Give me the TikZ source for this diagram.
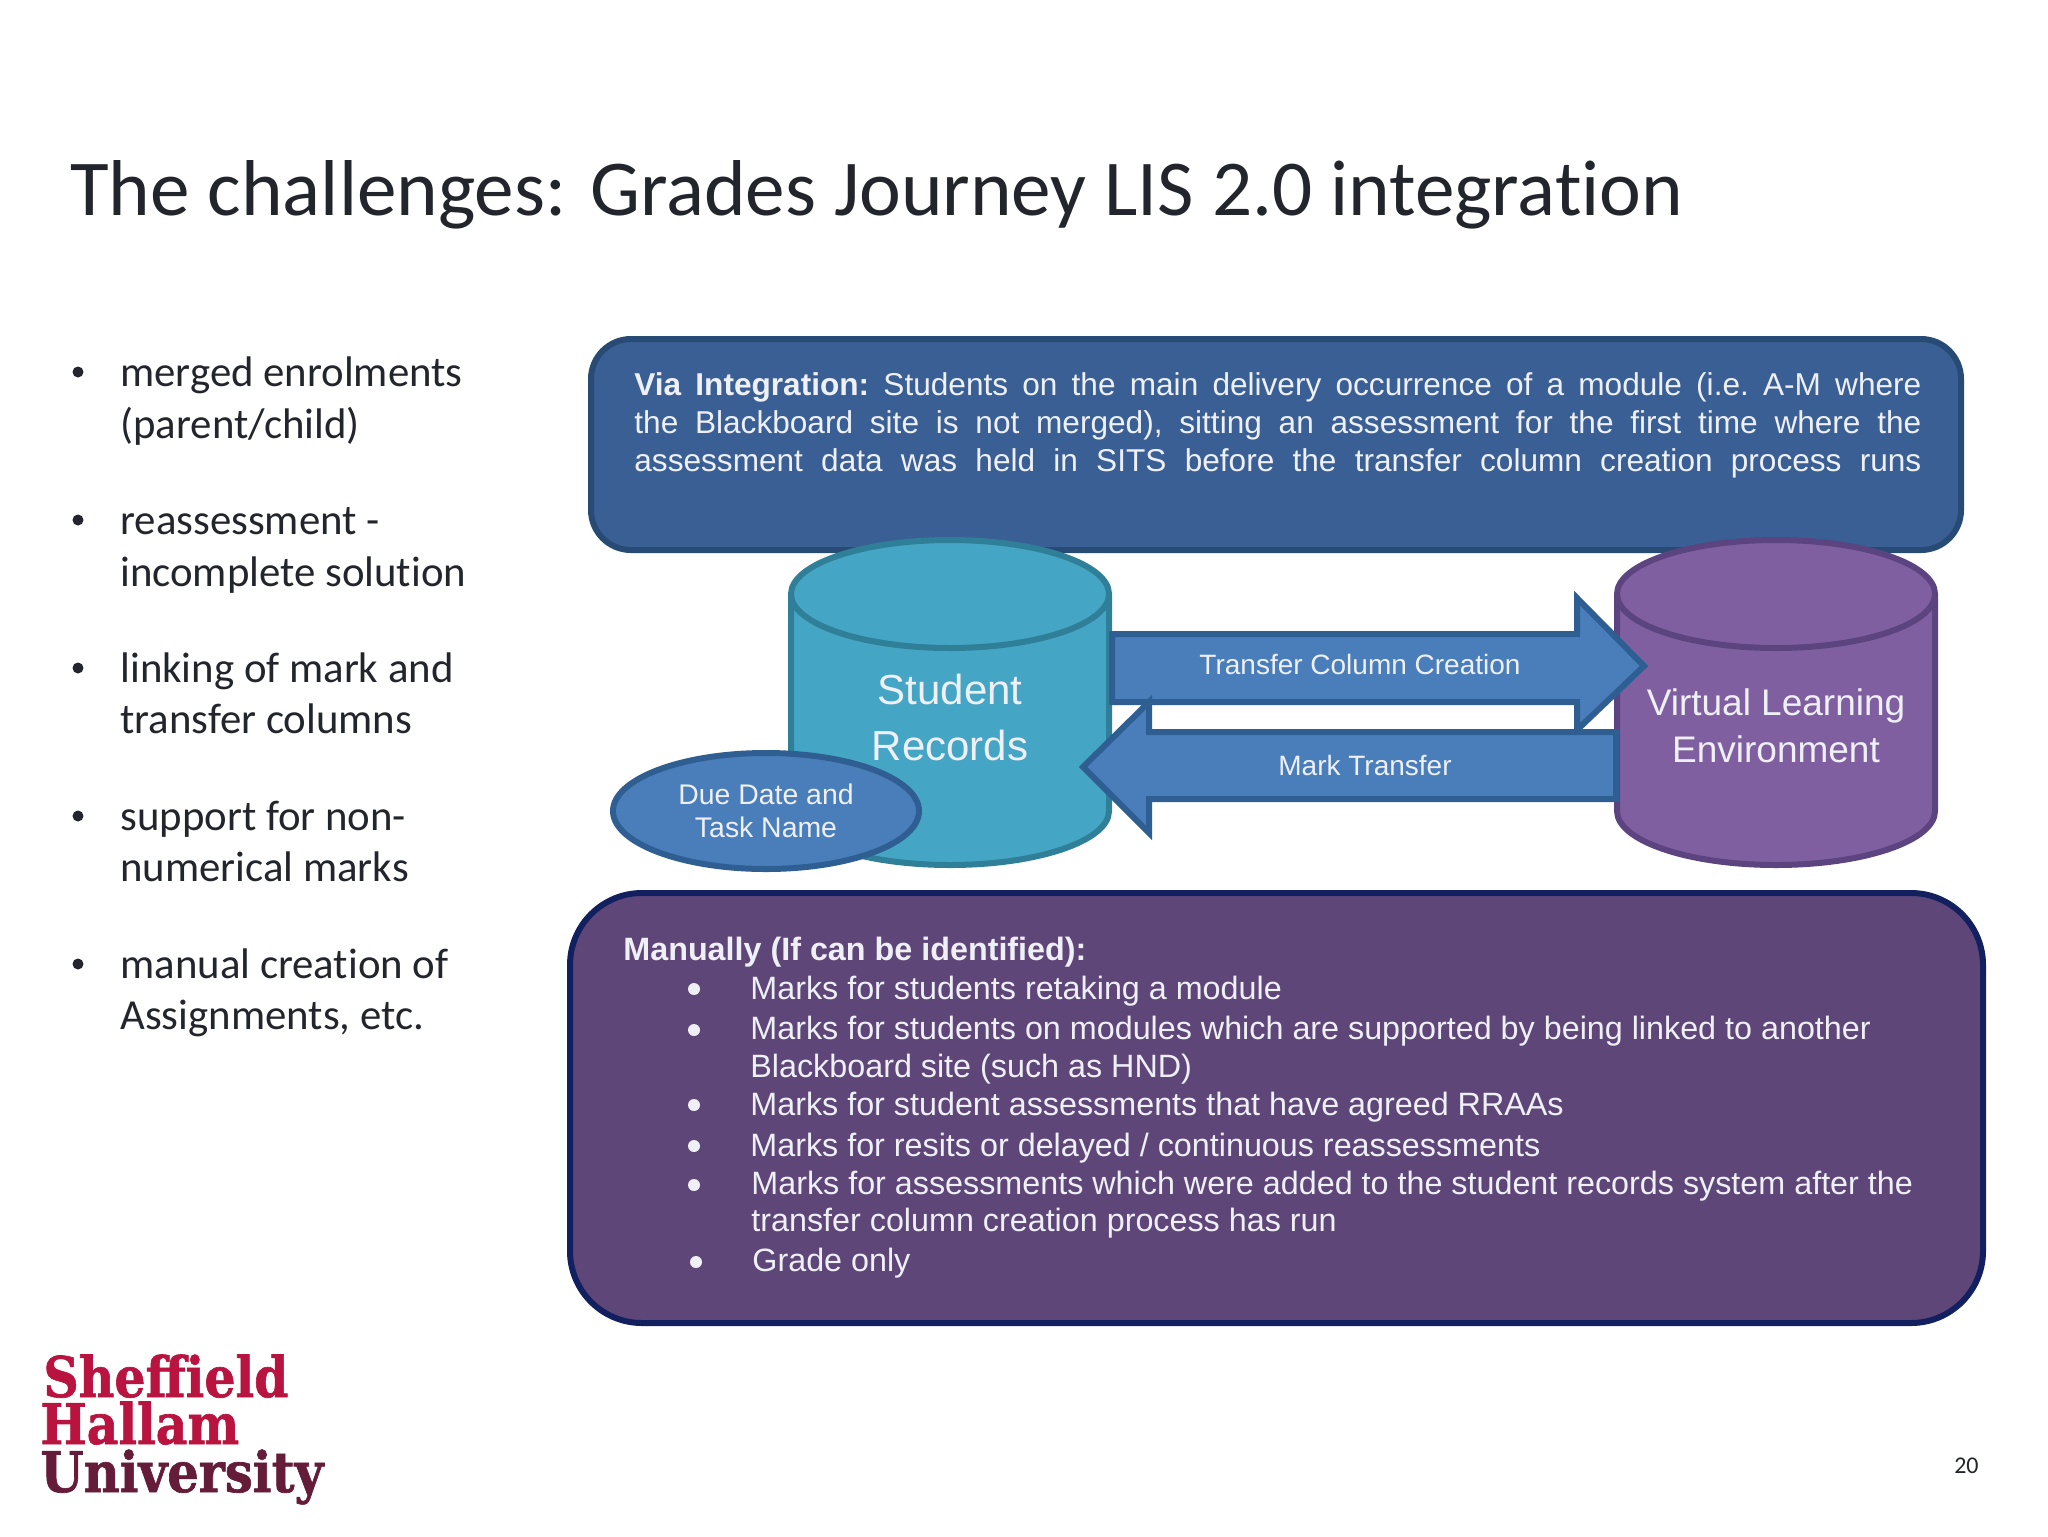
\documentclass[tikz,border=0pt]{standalone}
\usepackage{fontspec}
\usetikzlibrary{shapes.geometric}
\setmainfont{Carlito}[Ligatures=NoCommon]
\newfontfamily\arialf{Liberation Sans}
\newfontfamily\logof{DejaVu Serif}[BoldFeatures={FakeBold=1.2}]
\definecolor{topfill}{HTML}{3A5F95}
\definecolor{topline}{HTML}{274B75}
\definecolor{botfill}{HTML}{5F4679}
\definecolor{botline}{HTML}{12205F}
\definecolor{tealfill}{HTML}{45A5C4}
\definecolor{tealline}{HTML}{2F7F98}
\definecolor{purfill}{HTML}{7F5FA0}
\definecolor{purline}{HTML}{5B4480}
\definecolor{arrowfill}{HTML}{4A7EBB}
\definecolor{arrowline}{HTML}{2F5F92}
\definecolor{inktext}{HTML}{22262C}
\definecolor{lighttext}{HTML}{EEF0F6}
\definecolor{logored}{HTML}{B9143F}
\definecolor{logodark}{HTML}{651C38}
\newcommand{\viaLine}[1]{\leavevmode\hbox to 643.5pt{\frenchspacing\spaceskip=0.25em plus 1fil\relax #1}}
\tikzset{
  x=0.5pt,y=-0.5pt,
  panel/.style={line width=3pt},
  cyl/.style={line width=3pt},
  blockarrow/.style={fill=arrowfill,draw=arrowline,line width=3pt,line join=miter},
  bul/.style={anchor=base west,inner sep=0pt,text=inktext,font=\fontsize{21.4}{25}\selectfont},
  bdot/.style={circle,fill=inktext,inner sep=0pt,minimum size=5.5pt},
  lst/.style={anchor=base west,inner sep=0pt,text=lighttext,font=\arialf\fontsize{16.15}{19}\selectfont},
  ldot/.style={circle,fill=lighttext,inner sep=0pt,minimum size=6pt},
  lbl/.style={inner sep=0pt,text=lighttext,font=\arialf\fontsize{14}{17}\selectfont,align=center},
  biglbl/.style={inner sep=0pt,text=lighttext,font=\arialf\fontsize{21}{28}\selectfont,align=center},
  logotxt/.style={anchor=base west,inner sep=0pt,font=\logof\bfseries\fontsize{28}{30}\selectfont},
}
\begin{document}
\begin{tikzpicture}
\useasboundingbox (0,0) rectangle (2048,1536);
\fill[white] (0,0) rectangle (2048,1536);
\node[anchor=base west,inner sep=0pt,text=inktext,font=\fontsize{39.6}{46}\selectfont] (title) at (70,215) {The challenges: Grades Journey LIS 2.0 integration};
% left bullets
\node[bdot] (b1) at (78,372) {};
\node[bul] (t1a) at (120,386) {merged enrolments};
\node[bul] (t1b) at (120,438) {(parent/child)};
\node[bdot] (b2) at (78,520) {};
\node[bul] (t2a) at (120,534) {reassessment -};
\node[bul] (t2b) at (120,586) {incomplete solution};
\node[bdot] (b3) at (78,668) {};
\node[bul] (t3a) at (120,682) {linking of mark and};
\node[bul] (t3b) at (120,733) {transfer columns};
\node[bdot] (b4) at (78,816) {};
\node[bul] (t4a) at (120,830) {support for non-};
\node[bul] (t4b) at (120,881) {numerical marks};
\node[bdot] (b5) at (78,964) {};
\node[bul] (t5a) at (120,978) {manual creation of};
\node[bul] (t5b) at (120,1029) {Assignments, etc.};
% top panel
\draw[panel,fill=topfill,draw=topline,rounded corners=20pt] (591,339) rectangle (1961,550);
\node[anchor=north west,inner sep=0pt,text width=643.5pt,align=left,text=lighttext,font=\arialf\fontsize{15.8}{19}\selectfont] (via) at (634,372)
 {\viaLine{\textbf{Via Integration:} Students on the main delivery occurrence of a module (i.e. A-M where}\\
  \viaLine{the Blackboard site is not merged), sitting an assessment for the first time where the}\\
  \viaLine{assessment data was held in SITS before the transfer column creation process runs}};
% cylinders
\draw[cyl,fill=tealfill,draw=tealline] (791,594) -- (791,811) arc[start angle=180,end angle=0,x radius=159,y radius=54] -- (1109,594) arc[start angle=0,end angle=-180,x radius=159,y radius=54] -- cycle;
\draw[cyl,draw=tealline] (791,594) arc[start angle=180,end angle=0,x radius=159,y radius=54];
\draw[cyl,fill=purfill,draw=purline] (1617,594) -- (1617,811) arc[start angle=180,end angle=0,x radius=159,y radius=54] -- (1935,594) arc[start angle=0,end angle=-180,x radius=159,y radius=54] -- cycle;
\draw[cyl,draw=purline] (1617,594) arc[start angle=180,end angle=0,x radius=159,y radius=54];
% arrows
\draw[blockarrow] (1112,634) -- (1577,634) -- (1577,598) -- (1644,666) -- (1577,730) -- (1577,702) -- (1112,702) -- cycle;
\draw[blockarrow] (1616,732) -- (1149,732) -- (1149,702) -- (1083,767) -- (1149,833) -- (1149,799) -- (1616,799) -- cycle;
\node[lbl] (tcc) at (1360,664) {Transfer Column Creation};
\node[lbl] (mt) at (1365,765) {Mark Transfer};
\node[biglbl] (sr) at (950,717) {Student\\Records};
\node[biglbl,font=\arialf\fontsize{18.5}{23.5}\selectfont] (vle) at (1776,726) {Virtual Learning\\Environment};
\node[ellipse,draw=arrowline,fill=arrowfill,line width=3pt,minimum width=153pt,minimum height=58pt,inner sep=0pt,text=lighttext,font=\arialf\fontsize{14.2}{16.3}\selectfont,align=center] (due) at (766,811) {Due Date and\\Task Name};
% bottom panel
\draw[panel,fill=botfill,draw=botline,rounded corners=36pt] (570,893) rectangle (1983,1323);
\node[lst,font=\arialf\bfseries\fontsize{16.15}{19}\selectfont] (man) at (623,960) {Manually (If can be identified):};
\node[ldot] (d1) at (694,989) {};
\node[lst] (l1) at (750,999) {Marks for students retaking a module};
\node[ldot] (d2) at (694,1030) {};
\node[lst] (l2a) at (750,1039) {Marks for students on modules which are supported by being linked to another};
\node[lst] (l2b) at (750,1077) {Blackboard site (such as HND)};
\node[ldot] (d3) at (694,1105) {};
\node[lst] (l3) at (750,1115) {Marks for student assessments that have agreed RRAAs};
\node[ldot] (d4) at (694,1146) {};
\node[lst] (l4) at (750,1156) {Marks for resits or delayed / continuous reassessments};
\node[ldot] (d5) at (694,1185) {};
\node[lst] (l5a) at (751,1194) {Marks for assessments which were added to the student records system after the};
\node[lst] (l5b) at (751,1231) {transfer column creation process has run};
\node[ldot] (d6) at (696,1262) {};
\node[lst] (l6) at (752,1271) {Grade only};
% logo
\node[logotxt,text=logored] (lg1) at (43,1397) {\scalebox{0.875}[1]{Sheffield}};
\node[logotxt,text=logored] (lg2) at (40,1444) {\scalebox{0.875}[1]{Hallam}};
\node[logotxt,text=logodark] (lg3) at (40,1492) {\scalebox{0.885}[1]{University}};
\node[anchor=base east,inner sep=0pt,text=inktext,font=\fontsize{12}{14}\selectfont] (pg) at (1979,1473) {20};
\end{tikzpicture}
\end{document}
